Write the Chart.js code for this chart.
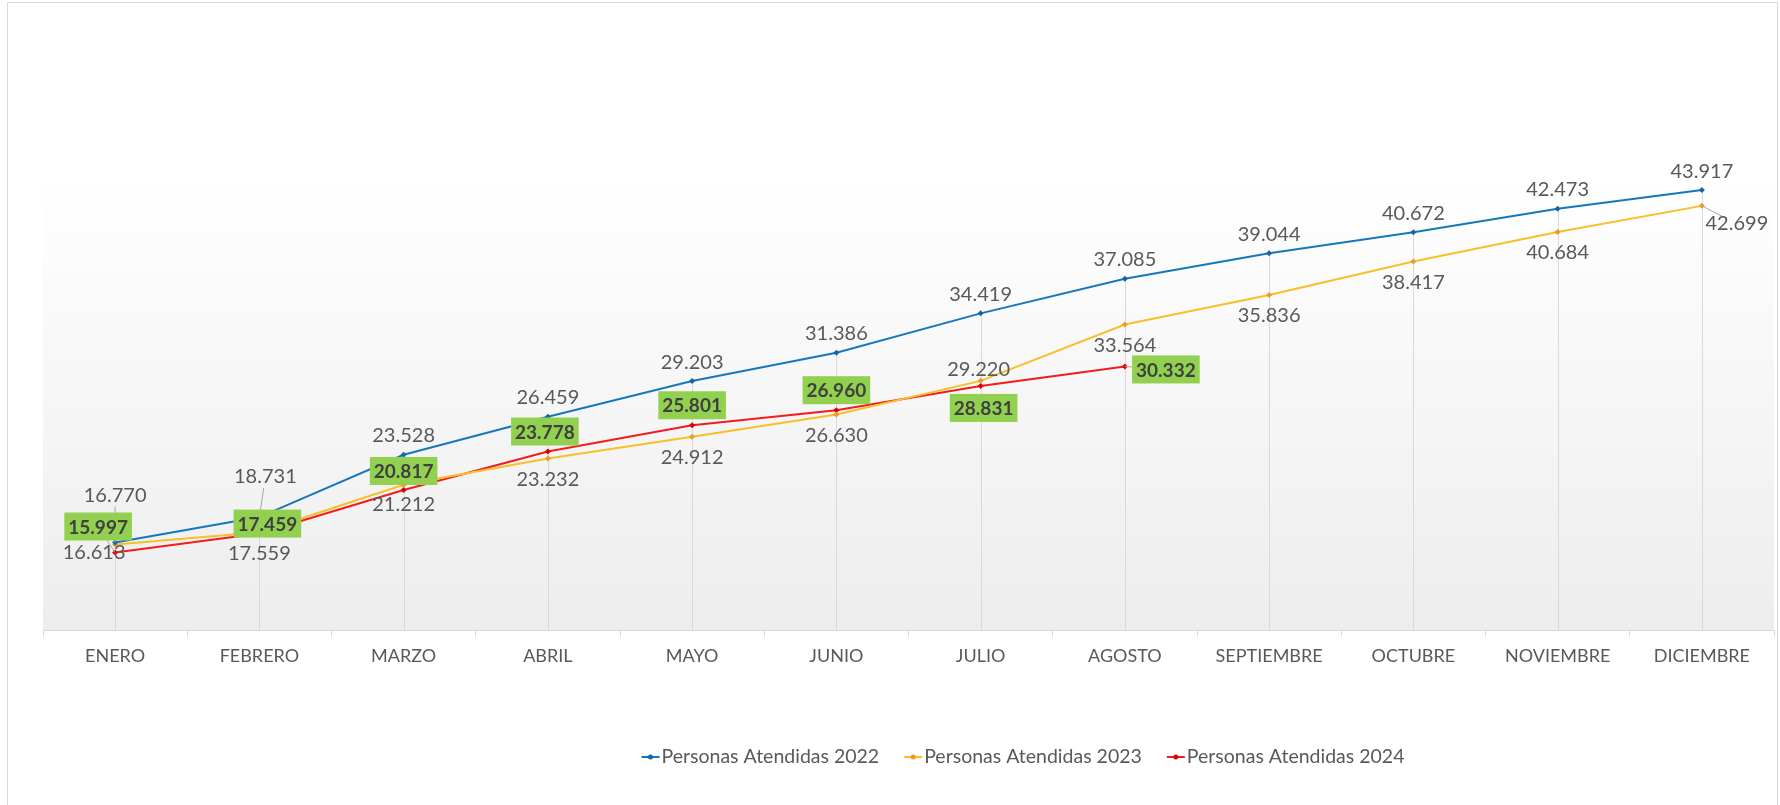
<!DOCTYPE html>
<html>
<head>
<meta charset="utf-8">
<script src="https://cdn.jsdelivr.net/npm/chart.js@4"></script>
<style>
  body { margin: 0; background: #fff; }
  canvas { display: block; }
</style>
</head>
<body>
<canvas id="chart" width="1780" height="805"></canvas>
<script>
// data
const months = ["ENERO", "FEBRERO", "MARZO", "ABRIL", "MAYO", "JUNIO", "JULIO", "AGOSTO", "SEPTIEMBRE", "OCTUBRE", "NOVIEMBRE", "DICIEMBRE"];
const seriesNames = ["Personas Atendidas 2022", "Personas Atendidas 2023", "Personas Atendidas 2024"];
const atendidas2022 = [16770, 18731, 23528, 26459, 29203, 31386, 34419, 37085, 39044, 40672, 42473, 43917];
const atendidas2023 = [16613, 17559, 21212, 23232, 24912, 26630, 29220, 33564, 35836, 38417, 40684, 42699];
const atendidas2024 = [15997, 17459, 20817, 23778, 25801, 26960, 28831, 30332];

// label placement (pixel offsets from each point), kept apart from the data
const labelOffsets = [
    [[0, -47], [6, -40], [0, -19], [0, -19], [0, -19], [0, -19], [0, -19], [0, -19], [0, -19], [0, -19], [0, -19], [0, -19]],
    [[-21, 8], [0, 21], [0, 20], [0, 21], [0, 21], [0, 21], [-2, -11], [0, 21], [0, 21], [0, 21], [0, 21], [35, 18]],
    [[-17, -26], [8, -10], [0, -19], [-3, -20], [0, -20], [0, -20], [3, 22], [41, 3]]
];

const lineColors = ["#1777BC", "#F7C028", "#F21C1C"];
const markerColors = ["#1565A8", "#EE9A2A", "#E00000"];
const FONT = "Lato, 'Noto Sans', sans-serif";

function fmt(v) {
    return String(v).replace(/\B(?=(\d{3})+(?!\d))/g, ".");
}

// background: outer frame + gradient plot area + drop lines
const backdrop = {
    id: "backdrop",
    beforeDraw(chart) {
        const ctx = chart.ctx;
        const a = chart.chartArea;
        ctx.save();
        ctx.strokeStyle = "#D9D9D9";
        ctx.lineWidth = 1;
        ctx.strokeRect(7.5, 2.5, 1770, 830);
        const g = ctx.createLinearGradient(0, a.top, 0, a.bottom);
        g.addColorStop(0, "#FFFFFF");
        g.addColorStop(1, "#EDEDED");
        ctx.fillStyle = g;
        ctx.fillRect(a.left, a.top, a.right - a.left, a.bottom - a.top);
        ctx.restore();
    },
    beforeDatasetsDraw(chart) {
        const ctx = chart.ctx;
        const a = chart.chartArea;
        ctx.save();
        ctx.strokeStyle = "#D9D9D9";
        ctx.lineWidth = 1;
        months.forEach((m, i) => {
            let top = a.bottom;
            chart.data.datasets.forEach((ds, d) => {
                const p = chart.getDatasetMeta(d).data[i];
                if (p && ds.data[i] != null) top = Math.min(top, p.y);
            });
            const x = Math.round(chart.scales.x.getPixelForValue(i)) + 0.5;
            ctx.beginPath();
            ctx.moveTo(x, top);
            ctx.lineTo(x, a.bottom);
            ctx.stroke();
        });
        ctx.restore();
    }
};

// data labels + legend
const labels = {
    id: "labels",
    afterDatasetsDraw(chart) {
        const ctx = chart.ctx;
        ctx.save();
        ctx.textAlign = "center";
        ctx.textBaseline = "middle";
        chart.data.datasets.forEach((ds, d) => {
            const meta = chart.getDatasetMeta(d);
            ds.data.forEach((v, i) => {
                const p = meta.data[i];
                const off = labelOffsets[d][i];
                const tx = p.x + off[0];
                const ty = p.y + off[1];
                const text = fmt(v);
                const dist = Math.hypot(off[0], off[1]);
                if (dist > 30) {
                    ctx.strokeStyle = "#A6A6A6";
                    ctx.lineWidth = 1;
                    ctx.beginPath();
                    ctx.moveTo(p.x, p.y);
                    ctx.lineTo(tx - off[0] * 11 / dist, ty - off[1] * 11 / dist);
                    ctx.stroke();
                }
                if (d === 2) {
                    ctx.font = "bold 19px " + FONT;
                    const w = ctx.measureText(text).width + 8;
                    ctx.fillStyle = "#92D050";
                    ctx.fillRect(tx - w / 2, ty - 14, w, 28);
                    ctx.fillStyle = "#404040";
                    ctx.fillText(text, tx, ty + 1);
                } else {
                    ctx.font = "20px " + FONT;
                    ctx.fillStyle = "#595959";
                    ctx.fillText(text, tx, ty);
                }
            });
        });

        // legend
        ctx.font = "19.5px " + FONT;
        ctx.textAlign = "left";
        const y = 757;
        const widths = seriesNames.map(n => ctx.measureText(n).width);
        const total = widths.reduce((s, w) => s + w + 20, 0) + 2 * 25;
        let x = 1023 - total / 2;
        seriesNames.forEach((n, d) => {
            ctx.strokeStyle = lineColors[d];
            ctx.lineWidth = 2;
            ctx.beginPath();
            ctx.moveTo(x, y);
            ctx.lineTo(x + 18, y);
            ctx.stroke();
            ctx.fillStyle = markerColors[d];
            ctx.beginPath();
            ctx.arc(x + 9, y, 2.5, 0, Math.PI * 2);
            ctx.fill();
            ctx.fillStyle = "#595959";
            ctx.fillText(n, x + 20, y);
            x += 20 + widths[d] + 25;
        });
        ctx.restore();
    }
};

function makeSet(d, values) {
    return {
        label: seriesNames[d],
        data: values,
        borderColor: lineColors[d],
        backgroundColor: markerColors[d],
        borderWidth: 2,
        pointStyle: "rectRot",
        pointRadius: 3,
        pointBorderWidth: 0,
        tension: 0,
        fill: false
    };
}

new Chart(document.getElementById("chart").getContext("2d"), {
    type: "line",
    data: {
        labels: months,
        datasets: [
            makeSet(0, atendidas2022),
            makeSet(1, atendidas2023),
            makeSet(2, atendidas2024)
        ]
    },
    options: {
        responsive: false,
        animation: false,
        layout: { padding: { left: 43, right: 6, top: 176, bottom: 129 } },
        plugins: {
            legend: { display: false },
            tooltip: { enabled: false }
        },
        scales: {
            x: {
                offset: true,
                grid: { display: true, drawOnChartArea: false, offset: true, tickLength: 6, color: "#D9D9D9" },
                border: { color: "#D9D9D9" },
                ticks: { color: "#595959", font: { family: FONT, size: 18 }, padding: 9, maxRotation: 0 }
            },
            y: {
                display: false,
                min: 10000,
                max: 45000
            }
        }
    },
    plugins: [backdrop, labels]
});
</script>
</body>
</html>
